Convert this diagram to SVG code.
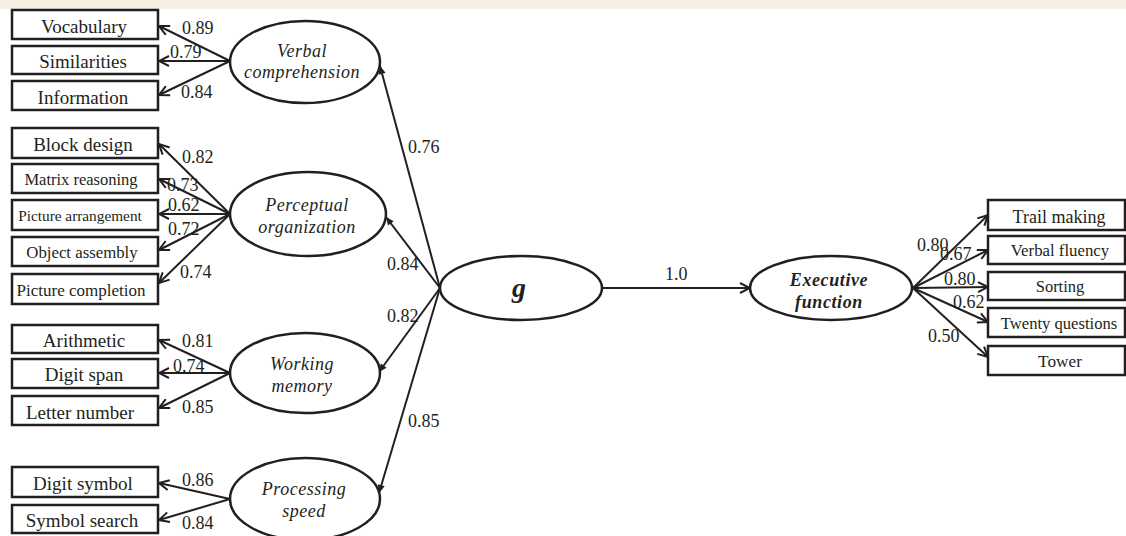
<svg xmlns="http://www.w3.org/2000/svg" width="1126" height="536" viewBox="0 0 1126 536">
<style>
.box{fill:#fff;stroke:#231f20;stroke-width:2.5}
.ell{fill:#fff;stroke:#231f20;stroke-width:2.5}
.t{font-family:"Liberation Serif","Times New Roman",serif;fill:#231f20;text-anchor:middle}
.lat{font-family:"Liberation Serif","Times New Roman",serif;fill:#231f20;text-anchor:middle;font-style:italic;font-size:18px;letter-spacing:0.5px}
.lbl{font-family:"Liberation Serif","Times New Roman",serif;fill:#231f20;font-size:18px}
.ln{stroke:#231f20;stroke-width:2;fill:none}
.oa{marker-end:url(#open)}
.fa{marker-end:url(#fill)}
</style>
<defs>
<marker id="open" viewBox="0 0 12 12" refX="11" refY="6" markerWidth="12" markerHeight="12" orient="auto" markerUnits="userSpaceOnUse">
<path d="M1,1 L11,6 L1,11" fill="none" stroke="#231f20" stroke-width="2"/>
</marker>
<marker id="fill" viewBox="0 0 10 10" refX="10" refY="5" markerWidth="10" markerHeight="8" orient="auto" markerUnits="userSpaceOnUse">
<path d="M0,0.5 L10,5 L0,9.5 z" fill="#231f20"/>
</marker>
</defs>
<rect x="0" y="0" width="1126" height="536" fill="#fff"/>
<rect x="0" y="0" width="1126" height="9" fill="#f5f0e2"/>

<g id="connectors">
<line class="ln oa" x1="230" y1="61" x2="159" y2="26"/>
<line class="ln oa" x1="230" y1="61" x2="159" y2="61"/>
<line class="ln oa" x1="230" y1="61" x2="159" y2="95"/>
<line class="ln oa" x1="230" y1="214" x2="159" y2="144"/>
<line class="ln oa" x1="230" y1="214" x2="159" y2="179"/>
<line class="ln oa" x1="230" y1="214" x2="159" y2="214"/>
<line class="ln oa" x1="230" y1="214" x2="159" y2="250"/>
<line class="ln oa" x1="230" y1="214" x2="159" y2="283"/>
<line class="ln oa" x1="230" y1="373" x2="159" y2="340"/>
<line class="ln oa" x1="230" y1="373" x2="159" y2="373"/>
<line class="ln oa" x1="230" y1="373" x2="159" y2="408"/>
<line class="ln oa" x1="230" y1="499" x2="159" y2="483"/>
<line class="ln oa" x1="230" y1="499" x2="159" y2="520"/>
<line class="ln fa" x1="440" y1="288" x2="380" y2="66"/>
<line class="ln fa" x1="440" y1="288" x2="386" y2="217"/>
<line class="ln fa" x1="440" y1="288" x2="379" y2="372"/>
<line class="ln fa" x1="440" y1="288" x2="379" y2="493"/>
<line class="ln oa" x1="602" y1="288" x2="750" y2="288"/>
<line class="ln oa" x1="913" y1="288" x2="988" y2="215"/>
<line class="ln oa" x1="913" y1="288" x2="988" y2="250"/>
<line class="ln oa" x1="913" y1="288" x2="988" y2="287"/>
<line class="ln oa" x1="913" y1="288" x2="988" y2="322"/>
<line class="ln oa" x1="913" y1="288" x2="988" y2="357"/>
<text class="lbl" x="182" y="34">0.89</text>
<text class="lbl" x="170" y="58">0.79</text>
<text class="lbl" x="181" y="98">0.84</text>
<text class="lbl" x="182" y="163">0.82</text>
<text class="lbl" x="167" y="191">0.73</text>
<text class="lbl" x="168" y="211">0.62</text>
<text class="lbl" x="168" y="235">0.72</text>
<text class="lbl" x="180" y="278">0.74</text>
<text class="lbl" x="182" y="347">0.81</text>
<text class="lbl" x="173" y="372">0.74</text>
<text class="lbl" x="182" y="413">0.85</text>
<text class="lbl" x="182" y="486">0.86</text>
<text class="lbl" x="182" y="529">0.84</text>
<text class="lbl" x="408" y="153">0.76</text>
<text class="lbl" x="387" y="270">0.84</text>
<text class="lbl" x="387" y="322">0.82</text>
<text class="lbl" x="408" y="427">0.85</text>
<text class="lbl" x="665" y="280">1.0</text>
<text class="lbl" x="917" y="251">0.80</text>
<text class="lbl" x="940" y="260">0.67</text>
<text class="lbl" x="944" y="285">0.80</text>
<text class="lbl" x="953" y="308">0.62</text>
<text class="lbl" x="928" y="342">0.50</text>
</g>

<g id="vocabulary"><rect class="box" x="12" y="10" width="146" height="29"/><text class="t" x="84" y="33" font-size="19">Vocabulary</text></g>
<g id="similarities"><rect class="box" x="12" y="46" width="146" height="28"/><text class="t" x="83" y="68" font-size="19">Similarities</text></g>
<g id="information"><rect class="box" x="12" y="81" width="146" height="29"/><text class="t" x="83" y="104" font-size="19">Information</text></g>

<g id="block-design"><rect class="box" x="12" y="128" width="146" height="30"/><text class="t" x="83" y="151" font-size="19">Block design</text></g>
<g id="matrix-reasoning"><rect class="box" x="12" y="164" width="146" height="29"/><text class="t" x="81" y="185" font-size="16.5">Matrix reasoning</text></g>
<g id="picture-arrangement"><rect class="box" x="12" y="200" width="146" height="30"/><text class="t" x="80" y="221" font-size="15.3">Picture arrangement</text></g>
<g id="object-assembly"><rect class="box" x="12" y="237" width="146" height="29"/><text class="t" x="82" y="258" font-size="16.8">Object assembly</text></g>
<g id="picture-completion"><rect class="box" x="12" y="274" width="146" height="30"/><text class="t" x="81" y="296" font-size="17">Picture completion</text></g>

<g id="arithmetic"><rect class="box" x="12" y="325" width="146" height="28"/><text class="t" x="84" y="347" font-size="19">Arithmetic</text></g>
<g id="digit-span"><rect class="box" x="12" y="359" width="146" height="29"/><text class="t" x="84" y="381" font-size="19">Digit span</text></g>
<g id="letter-number"><rect class="box" x="12" y="396" width="146" height="29"/><text class="t" x="80" y="419" font-size="19">Letter number</text></g>

<g id="digit-symbol"><rect class="box" x="12" y="467" width="146" height="30"/><text class="t" x="83" y="490" font-size="19">Digit symbol</text></g>
<g id="symbol-search"><rect class="box" x="12" y="505" width="146" height="28"/><text class="t" x="82" y="527" font-size="19">Symbol search</text></g>

<g id="verbal-comprehension"><ellipse class="ell" cx="305" cy="62" rx="75" ry="41"/><text class="lat" x="302" y="57">Verbal</text><text class="lat" x="302" y="78" letter-spacing="0.1">comprehension</text></g>
<g id="perceptual-organization"><ellipse class="ell" cx="308" cy="214" rx="78" ry="42"/><text class="lat" x="307" y="211">Perceptual</text><text class="lat" x="307" y="233">organization</text></g>
<g id="working-memory"><ellipse class="ell" cx="305" cy="373" rx="75" ry="40"/><text class="lat" x="302" y="370">Working</text><text class="lat" x="302" y="392">memory</text></g>
<g id="processing-speed"><ellipse class="ell" cx="305" cy="499" rx="75" ry="41"/><text class="lat" x="304" y="495">Processing</text><text class="lat" x="304" y="517">speed</text></g>

<g id="g"><ellipse class="ell" cx="521" cy="288" rx="81" ry="32"/><text class="t" x="519" y="297" font-size="28" font-weight="bold" font-style="italic">g</text></g>
<g id="executive-function"><ellipse class="ell" cx="831" cy="288" rx="81" ry="32"/><text class="t" x="829" y="286" font-size="18" font-weight="bold" font-style="italic" letter-spacing="0.6">Executive</text><text class="t" x="829" y="308" font-size="18" font-weight="bold" font-style="italic" letter-spacing="0.6">function</text></g>

<g id="trail-making"><rect class="box" x="988" y="200" width="137" height="30"/><text class="t" x="1059" y="223" font-size="18">Trail making</text></g>
<g id="verbal-fluency"><rect class="box" x="988" y="236" width="137" height="28"/><text class="t" x="1060" y="256" font-size="16.8">Verbal fluency</text></g>
<g id="sorting"><rect class="box" x="988" y="272" width="137" height="28"/><text class="t" x="1060" y="292" font-size="16.5">Sorting</text></g>
<g id="twenty-questions"><rect class="box" x="988" y="308" width="137" height="29"/><text class="t" x="1059" y="329" font-size="16.6">Twenty questions</text></g>
<g id="tower"><rect class="box" x="988" y="346" width="137" height="29"/><text class="t" x="1060" y="367" font-size="17.3">Tower</text></g>
</svg>
